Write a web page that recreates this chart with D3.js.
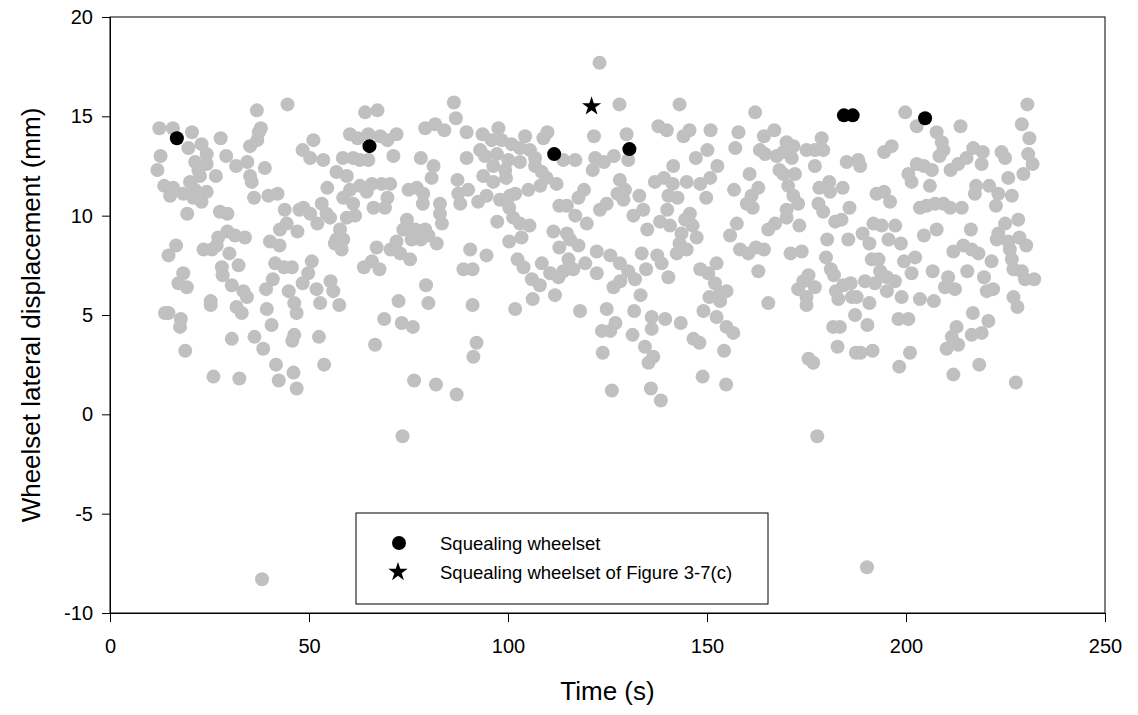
<!DOCTYPE html>
<html>
<head>
<meta charset="utf-8">
<script src="https://cdn.jsdelivr.net/npm/d3@7"></script>
<style>
  body { margin: 0; background: #fff; }
  text { font-family: "Liberation Sans", Arial, sans-serif; fill: #000; }
</style>
</head>
<body>
<div id="chart"></div>
<script>
// all wheelsets: [time (s), lateral displacement (mm)]
const allPoints = [
  [44.6,15.6],[36.9,15.3],[12.4,14.4],[15.8,14.4],[20.6,14.2],[27.8,13.9],[37.9,14.4],[37.4,14.2],[37.0,13.8],[35.2,13.5],
  [19.7,13.4],[23.0,13.6],[24.3,13.1],[12.7,13.0],[29.2,13.0],[31.7,12.5],[34.5,12.7],[38.9,12.4],[11.9,12.3],[21.4,12.7],
  [24.3,12.6],[22.2,12.3],[26.6,12.0],[35.2,12.0],[35.6,11.7],[20.1,11.7],[22.6,12.0],[13.6,11.5],[15.9,11.4],[15.1,11.0],
  [18.4,11.1],[21.4,11.3],[24.3,11.2],[20.9,10.9],[23.0,10.7],[36.2,10.9],[39.8,11.0],[42.1,11.1],[19.4,10.1],[27.6,10.2],
  [29.5,10.1],[43.9,10.3],[47.6,10.3],[44.4,9.6],[42.7,9.3],[47.1,9.2],[29.5,9.2],[27.2,8.9],[31.4,9.0],[33.9,8.9],
  [16.6,8.5],[14.7,8.0],[23.5,8.3],[25.6,8.3],[26.8,8.5],[30.0,8.1],[40.2,8.7],[42.6,8.5],[41.5,7.6],[43.7,7.4],
  [45.7,7.4],[28.1,7.4],[32.3,7.5],[18.4,7.1],[17.2,6.6],[19.3,6.4],[28.3,7.0],[30.6,6.5],[33.5,6.2],[34.4,5.9],
  [40.9,6.8],[39.2,6.3],[44.9,6.2],[25.3,5.7],[25.3,5.5],[31.8,5.4],[33.1,5.1],[39.4,5.3],[46.3,5.6],[46.9,5.1],
  [13.8,5.1],[14.7,5.1],[17.8,4.8],[17.6,4.4],[40.6,4.5],[30.6,3.8],[36.3,3.9],[38.5,3.3],[45.8,3.7],[46.3,4.0],
  [18.9,3.2],[41.7,2.5],[26.0,1.9],[32.5,1.8],[42.4,1.7],[46.1,2.1],[46.9,1.3],[38.2,-8.3],
  [64.1,15.2],[67.2,15.3],[86.4,15.7],[86.9,14.9],[51.1,13.8],[60.3,14.1],[62.2,13.9],[64.9,14.1],[67.9,14.0],[69.7,13.8],
  [72.0,14.1],[79.2,14.4],[81.7,14.6],[84.0,14.3],[48.4,13.3],[50.3,12.9],[53.6,12.8],[58.5,12.9],[61.1,12.9],[62.8,12.8],
  [64.9,12.8],[71.2,13.0],[78.1,12.9],[81.3,12.5],[80.8,11.9],[87.3,11.8],[56.9,12.2],[59.5,12.0],[54.6,11.4],[60.3,11.3],
  [62.8,11.5],[65.8,11.6],[68.3,11.6],[70.4,11.6],[58.6,10.9],[64.5,11.2],[61.1,10.6],[69.7,10.9],[75.0,11.3],[77.1,11.4],
  [78.7,11.1],[78.6,10.6],[87.5,11.1],[88.0,10.6],[66.2,10.4],[69.1,10.4],[82.9,10.6],[82.9,10.1],[83.4,9.6],[48.6,10.4],
  [50.3,10.1],[53.2,10.6],[54.4,10.1],[55.3,9.9],[52.1,9.6],[59.5,9.9],[61.6,10.0],[74.6,9.8],[73.7,9.3],[76.7,9.3],
  [79.2,9.3],[80.0,9.0],[75.8,8.8],[78.1,8.8],[82.1,8.6],[57.8,9.3],[56.9,8.8],[58.6,8.8],[58.2,8.3],[56.5,8.6],
  [67.0,8.4],[72.0,8.7],[70.5,8.3],[72.9,8.1],[75.4,7.8],[65.8,7.7],[63.8,7.4],[67.7,7.3],[50.7,7.7],[49.8,7.1],
  [48.4,6.6],[51.9,6.3],[55.4,6.7],[56.1,6.2],[52.8,5.6],[57.6,5.5],[79.4,6.5],[80.0,5.6],[72.5,5.7],[68.9,4.8],
  [73.3,4.6],[76.1,4.4],[66.6,3.5],[52.5,3.9],[53.8,2.5],[76.4,1.7],[81.9,1.5],[87.1,1.0],[73.5,-1.1],
  [123.0,17.7],[128.0,15.6],[121.6,14.0],[97.6,14.4],[109.9,14.2],[108.9,13.9],[104.3,14.0],[89.6,14.2],[93.6,14.1],[95.9,13.8],
  [98.4,13.8],[100.9,13.6],[103.0,13.4],[105.5,13.3],[93.0,13.3],[89.6,12.9],[94.2,13.0],[97.2,13.1],[100.1,12.8],[103.0,12.7],
  [106.8,12.9],[113.9,12.8],[116.9,12.8],[121.9,12.9],[124.1,12.7],[126.6,13.0],[121.3,12.3],[96.3,12.5],[99.3,12.3],[93.8,12.0],
  [96.3,11.7],[99.5,11.9],[106.8,12.5],[108.5,12.2],[109.7,11.9],[112.2,11.6],[108.1,11.5],[105.1,11.3],[90.0,11.3],[92.5,10.7],
  [94.6,11.0],[98.0,10.8],[100.5,11.0],[101.8,11.1],[100.3,10.4],[117.7,10.9],[119.1,11.3],[112.9,10.5],[114.8,10.5],[116.9,10.0],
  [119.8,9.6],[123.1,10.3],[124.8,10.6],[127.5,11.1],[101.3,9.9],[103.0,9.6],[105.4,9.5],[97.3,9.7],[111.4,9.2],[114.8,9.1],
  [115.6,8.8],[112.9,8.4],[117.7,8.5],[100.3,8.7],[103.4,8.9],[90.5,8.3],[94.6,8.0],[102.4,7.8],[103.9,7.4],[108.5,7.6],
  [115.2,7.8],[116.4,7.3],[113.9,7.2],[119.4,7.6],[122.3,8.2],[125.7,8.0],[122.3,7.1],[110.6,7.1],[112.7,6.9],[88.8,7.3],
  [91.1,7.3],[106.0,6.8],[108.0,6.5],[126.5,6.4],[128.2,6.7],[106.2,5.8],[111.8,6.0],[91.1,5.5],[101.8,5.3],[118.1,5.2],
  [124.8,5.3],[123.6,4.2],[125.7,4.2],[127.0,4.6],[92.1,3.6],[91.3,2.9],[123.8,3.1],[126.1,1.2],
  [143.1,15.6],[162.1,15.2],[137.8,14.5],[139.9,14.3],[144.1,14.0],[145.6,14.3],[150.9,14.3],[157.9,14.2],[129.8,14.1],[130.2,12.8],
  [157.1,13.4],[150.1,13.3],[147.2,12.9],[164.3,14.0],[166.9,14.3],[163.3,13.3],[164.6,13.1],[167.5,13.0],[168.2,12.3],[160.7,12.1],
  [152.6,12.5],[141.5,12.5],[150.8,11.9],[148.3,11.6],[144.9,11.7],[136.9,11.7],[139.2,11.9],[141.4,11.6],[140.3,11.0],[142.6,10.9],
  [128.1,11.8],[129.4,11.3],[129.0,10.8],[133.0,11.0],[156.8,11.3],[162.9,11.4],[161.2,11.0],[160.0,10.6],[161.5,10.4],[149.8,10.9],
  [134.0,10.3],[131.5,10.0],[140.0,10.3],[145.7,10.1],[144.5,9.8],[138.2,9.7],[140.7,9.5],[135.0,9.3],[146.4,9.5],[143.6,9.1],
  [147.4,8.9],[157.5,9.6],[155.8,9.0],[165.4,9.3],[167.1,9.6],[143.1,8.6],[144.9,8.3],[142.4,8.1],[158.3,8.3],[160.4,8.1],
  [162.3,8.4],[164.3,8.3],[133.6,8.1],[137.5,8.0],[128.1,7.6],[138.6,7.6],[134.7,7.3],[140.3,6.9],[148.3,7.3],[152.4,7.6],
  [150.3,7.1],[130.2,7.2],[131.9,6.8],[162.9,7.2],[152.0,6.6],[154.9,6.2],[153.3,6.1],[150.6,5.9],[153.3,5.7],[133.3,6.0],
  [165.4,5.6],[131.7,5.2],[136.1,4.9],[136.1,4.3],[139.5,4.8],[143.4,4.6],[149.1,5.2],[152.4,4.9],[154.9,4.4],[156.6,4.1],
  [131.3,4.0],[146.6,3.8],[148.1,3.6],[134.4,3.4],[154.3,3.2],[135.3,2.6],[136.5,2.9],[148.9,1.9],[154.8,1.5],[135.9,1.3],
  [138.4,0.7],
  [199.8,15.2],[202.7,14.5],[207.7,14.2],[178.8,13.9],[179.2,13.3],[170.0,13.7],[171.7,13.5],[175.0,13.3],[177.1,13.3],[169.2,13.2],
  [171.3,12.9],[177.1,12.5],[172.1,12.1],[169.2,12.1],[185.1,12.7],[188.0,12.8],[188.5,12.5],[194.5,13.2],[196.4,13.5],[200.6,12.1],
  [202.7,12.6],[204.5,12.5],[206.5,12.3],[201.4,11.7],[206.0,11.5],[208.4,13.0],[170.4,11.5],[171.7,11.0],[172.9,10.6],[170.0,10.3],
  [170.0,9.9],[180.7,11.7],[178.2,11.4],[180.9,11.2],[184.1,11.4],[178.0,10.6],[179.2,10.2],[182.2,9.7],[183.8,9.8],[185.8,10.4],
  [192.6,11.1],[194.5,11.2],[196.0,10.7],[203.5,10.4],[205.2,10.5],[207.3,10.6],[173.2,9.5],[191.8,9.6],[193.9,9.5],[197.3,9.5],
  [195.6,8.8],[198.7,8.6],[204.5,9.0],[207.7,9.3],[180.2,8.8],[185.5,8.8],[189.1,9.1],[190.8,8.6],[171.0,8.1],[173.8,8.2],
  [179.9,7.9],[181.1,7.3],[181.9,7.0],[191.4,7.8],[193.1,7.8],[193.5,7.2],[195.2,6.9],[199.5,7.7],[202.3,7.9],[201.4,7.1],
  [206.7,7.2],[175.5,7.0],[174.2,6.7],[172.9,6.3],[177.1,6.4],[175.0,5.9],[175.0,5.5],[184.3,6.5],[186.1,6.6],[182.4,6.2],
  [183.0,5.8],[186.4,5.9],[187.6,5.9],[189.7,6.7],[192.2,6.6],[195.2,6.2],[197.2,6.7],[198.9,5.9],[190.8,5.6],[187.2,5.0],
  [190.3,4.5],[203.5,5.8],[207.0,5.7],[198.1,4.8],[200.6,4.8],[181.7,4.4],[183.4,4.4],[182.8,3.4],[187.4,3.1],[188.6,3.1],
  [191.6,3.2],[201.0,3.1],[175.5,2.8],[176.7,2.6],[198.3,2.4],[177.7,-1.1],[190.2,-7.7],
  [230.5,15.6],[213.7,14.5],[229.1,14.6],[231.0,13.9],[209.0,13.7],[209.4,13.3],[211.2,12.3],[213.1,12.6],[215.2,12.9],[216.9,13.4],
  [219.3,13.2],[219.0,12.6],[224.0,13.2],[224.9,12.9],[230.7,13.1],[231.8,12.6],[229.5,12.1],[225.7,11.9],[217.6,11.5],[217.3,11.1],
  [220.9,11.5],[223.2,11.1],[226.6,11.0],[222.6,10.5],[209.4,10.6],[211.1,10.4],[214.0,10.4],[216.3,9.3],[224.9,9.6],[228.2,9.8],
  [223.2,9.1],[222.8,8.8],[225.7,8.7],[228.5,8.9],[230.2,8.5],[211.9,8.2],[214.4,8.5],[216.5,8.3],[218.2,8.1],[226.1,8.3],
  [226.6,7.8],[221.5,7.7],[227.0,7.3],[229.1,7.2],[229.9,6.8],[232.2,6.8],[215.4,7.2],[219.6,6.9],[210.6,6.9],[209.8,6.4],
  [212.3,6.3],[220.3,6.2],[221.9,6.3],[227.0,5.9],[228.0,5.4],[216.8,5.1],[220.7,4.7],[219.0,4.1],[216.5,4.0],[212.7,4.4],
  [211.5,3.9],[213.1,3.5],[210.2,3.3],[218.4,2.5],[211.9,2.0],[227.6,1.6]
];

// squealing wheelsets
const squealTime = [16.8, 65.2, 111.6, 130.5, 184.4, 186.6, 204.8];
const squealDisp = [13.9, 13.5, 13.1, 13.35, 15.05, 15.05, 14.9];

// squealing wheelset of Figure 3-7(c)
const starTime = [121.0];
const starDisp = [15.5];

const xTicks = [0, 50, 100, 150, 200, 250];
const yTicks = [-10, -5, 0, 5, 10, 15, 20];
const legendLabels = ["Squealing wheelset", "Squealing wheelset of Figure 3-7(c)"];

const width = 1138, height = 715;
const margin = {top: 17, right: 33, bottom: 102, left: 110};
const plotW = width - margin.left - margin.right;
const plotH = height - margin.top - margin.bottom;

const svg = d3.select("#chart").append("svg")
    .attr("width", width)
    .attr("height", height);

const x = d3.scaleLinear().domain([0, 250]).range([0, plotW]);
const y = d3.scaleLinear().domain([-10, 20]).range([plotH, 0]);

const g = svg.append("g").attr("transform", `translate(${margin.left},${margin.top})`);

// points
g.append("g")
    .selectAll("circle")
    .data(allPoints)
    .enter().append("circle")
    .attr("cx", d => x(d[0]))
    .attr("cy", d => y(d[1]))
    .attr("r", 7)
    .attr("fill", "#c0c0c0");

g.append("g")
    .selectAll("circle")
    .data(squealTime)
    .enter().append("circle")
    .attr("cx", d => x(d))
    .attr("cy", (d, i) => y(squealDisp[i]))
    .attr("r", 7)
    .attr("fill", "#000");

const star = d3.symbol().type(d3.symbolStar).size(115);
g.append("g")
    .selectAll("path")
    .data(starTime)
    .enter().append("path")
    .attr("d", star)
    .attr("transform", (d, i) => `translate(${x(d)},${y(starDisp[i])})`)
    .attr("fill", "#000");

// frame
g.append("rect")
    .attr("width", plotW)
    .attr("height", plotH)
    .attr("fill", "none")
    .attr("stroke", "#000")
    .attr("stroke-width", 1);

// axes (plain hyphen for negatives, like the original)
const fmt = d => String(d);
const xAxis = g.append("g")
    .attr("transform", `translate(0,${plotH})`)
    .call(d3.axisBottom(x).tickValues(xTicks).tickFormat(fmt).tickSize(9).tickPadding(17));
const yAxis = g.append("g")
    .call(d3.axisLeft(y).tickValues(yTicks).tickFormat(fmt).tickSize(8).tickPadding(9));

[xAxis, yAxis].forEach(a => {
    a.select(".domain").attr("stroke", "#000");
    a.selectAll("line").attr("stroke", "#000");
    a.selectAll("text")
        .attr("font-family", "Liberation Sans, Arial, sans-serif")
        .attr("font-size", 20)
        .attr("fill", "#000");
});

// axis titles
svg.append("text")
    .attr("x", margin.left + plotW / 2)
    .attr("y", 700)
    .attr("text-anchor", "middle")
    .attr("font-size", 26)
    .text("Time (s)");

svg.append("text")
    .attr("transform", `translate(40,${margin.top + plotH / 2}) rotate(-90)`)
    .attr("text-anchor", "middle")
    .attr("font-size", 26)
    .text("Wheelset lateral displacement (mm)");

// legend
const legend = svg.append("g").attr("transform", "translate(356,513)");
legend.append("rect")
    .attr("width", 412)
    .attr("height", 91)
    .attr("fill", "#fff")
    .attr("stroke", "#000")
    .attr("stroke-width", 1);

legend.append("circle")
    .attr("cx", 43).attr("cy", 30).attr("r", 7)
    .attr("fill", "#000");
legend.append("path")
    .attr("d", star)
    .attr("transform", "translate(42,59)")
    .attr("fill", "#000");

legend.selectAll("text.lbl")
    .data(legendLabels)
    .enter().append("text")
    .attr("class", "lbl")
    .attr("x", 84)
    .attr("y", (d, i) => 37 + i * 29)
    .attr("font-size", 18.5)
    .text(d => d);
</script>
</body>
</html>
